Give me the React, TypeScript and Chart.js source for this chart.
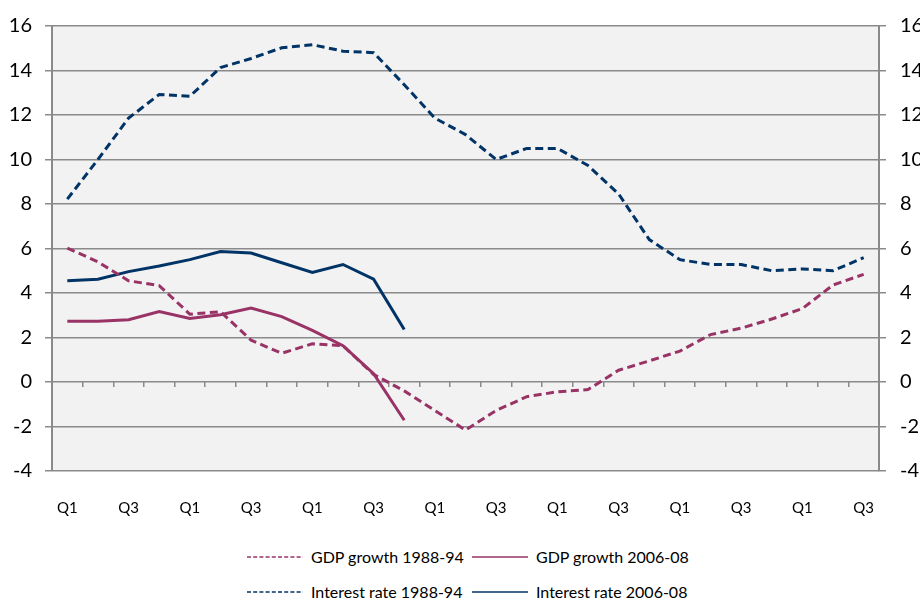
import React, { useEffect, useRef } from 'react';
import { Chart, registerables } from 'chart.js';

Chart.register(...registerables);

const categories = [
  'Q1', 'Q2', 'Q3', 'Q4', 'Q1', 'Q2', 'Q3', 'Q4', 'Q1', 'Q2', 'Q3', 'Q4', 'Q1', 'Q2',
  'Q3', 'Q4', 'Q1', 'Q2', 'Q3', 'Q4', 'Q1', 'Q2', 'Q3', 'Q4', 'Q1', 'Q2', 'Q3',
];

const gdp198894 = [
  6.02, 5.4, 4.55, 4.33, 3.05, 3.16, 1.88, 1.29, 1.72, 1.63, 0.34, -0.4, -1.28, -2.16,
  -1.28, -0.66, -0.44, -0.34, 0.53, 0.95, 1.39, 2.13, 2.42, 2.83, 3.3, 4.36, 4.84,
];
const gdp200608 = [2.73, 2.73, 2.8, 3.17, 2.86, 3.02, 3.32, 2.94, 2.32, 1.63, 0.37, -1.72];
const rate198894 = [
  8.22, 10.0, 11.86, 12.92, 12.84, 14.13, 14.54, 15.02, 15.16, 14.87, 14.8, 13.36, 11.86, 11.12,
  10.0, 10.5, 10.5, 9.73, 8.45, 6.4, 5.5, 5.28, 5.28, 5.0, 5.08, 5.0, 5.59,
];
const rate200608 = [4.55, 4.62, 4.96, 5.21, 5.5, 5.86, 5.8, 5.36, 4.92, 5.28, 4.62, 2.36];

const seriesNames = ['GDP growth 1988-94', 'GDP growth 2006-08', 'Interest rate 1988-94', 'Interest rate 2006-08'];

const MAGENTA = '#993366';
const NAVY = '#003366';
const GRID = '#8a8a8a';
const FONT = 'Lato, "Open Sans", sans-serif';

const plotBg = {
  id: 'plotBg',
  beforeDraw(chart: any) {
    const { ctx, chartArea: a } = chart;
    ctx.save();
    ctx.fillStyle = '#f2f2f2';
    ctx.fillRect(a.left, a.top, a.right - a.left, a.bottom - a.top);
    ctx.restore();
  },
};

const legendItems = [
  { name: seriesNames[0], color: MAGENTA, dashed: true },
  { name: seriesNames[1], color: MAGENTA, dashed: false },
  { name: seriesNames[2], color: NAVY, dashed: true },
  { name: seriesNames[3], color: NAVY, dashed: false },
];

function LegendItem({ item, left, top }: { item: any; left: number; top: number }) {
  return (
    <div style={{ position: 'absolute', left, top, display: 'flex', alignItems: 'center', height: 22, whiteSpace: 'nowrap' }}>
      <svg width={56} height={4} style={{ display: 'block', marginRight: 8 }}>
        <line x1={0} y1={2} x2={56} y2={2} stroke={item.color} strokeWidth={1.5}
          strokeDasharray={item.dashed ? '4 2.2' : undefined} />
      </svg>
      <span style={{ fontFamily: FONT, fontSize: 16, color: '#000', lineHeight: '22px' }}>{item.name}</span>
    </div>
  );
}

export default function App() {
  const ref = useRef<HTMLCanvasElement>(null);

  useEffect(() => {
    if (!ref.current) return;
    Chart.defaults.font.family = FONT;
    Chart.defaults.color = '#000';
    const chart = new Chart(ref.current, {
      type: 'line',
      data: {
        labels: categories,
        datasets: [
          {
            label: seriesNames[0], data: gdp198894, borderColor: MAGENTA, borderWidth: 3,
            borderDash: [8, 4.5], pointRadius: 0, tension: 0, fill: false, xAxisID: 'x', yAxisID: 'y',
          },
          {
            label: seriesNames[1], data: gdp200608, borderColor: MAGENTA, borderWidth: 3,
            pointRadius: 0, tension: 0, fill: false, xAxisID: 'x', yAxisID: 'y',
          },
          {
            label: seriesNames[2], data: rate198894, borderColor: NAVY, borderWidth: 3,
            borderDash: [8, 4.5], pointRadius: 0, tension: 0, fill: false, xAxisID: 'x', yAxisID: 'y',
          },
          {
            label: seriesNames[3], data: rate200608, borderColor: NAVY, borderWidth: 3,
            pointRadius: 0, tension: 0, fill: false, xAxisID: 'x', yAxisID: 'y',
          },
        ],
      },
      options: {
        responsive: false,
        animation: false,
        layout: { padding: { top: 6, bottom: 0, left: 0, right: 0 } },
        plugins: { legend: { display: false }, tooltip: { enabled: false } },
        scales: {
          x: {
            type: 'category',
            offset: true,
            grid: { display: false },
            border: { display: false },
            ticks: {
              autoSkip: false,
              maxRotation: 0,
              padding: 20,
              font: { family: FONT, size: 15 },
              color: '#000',
              callback: (_v: any, i: number) => (i % 2 === 0 ? categories[i] : ''),
            },
            afterFit: (s: any) => { s.height = 60; },
          },
          xTicks: {
            type: 'category',
            axis: 'x',
            position: { y: 0 },
            offset: true,
            ticks: { display: false },
            grid: { drawOnChartArea: false, drawTicks: true, tickLength: 5, offset: true, color: GRID, lineWidth: 1.5 },
            border: { display: false },
          },
          y: {
            min: -4,
            max: 16,
            position: 'left',
            ticks: { stepSize: 2, font: { family: FONT, size: 20 }, color: '#000', padding: 13 },
            border: { display: true, color: GRID, width: 2 },
            grid: { color: GRID, lineWidth: 1.5, tickLength: 7 },
            afterFit: (s: any) => { s.width = 52; },
          },
          y2: {
            min: -4,
            max: 16,
            position: 'right',
            ticks: { stepSize: 2, font: { family: FONT, size: 20 }, color: '#000', padding: 14 },
            border: { display: true, color: GRID, width: 2 },
            grid: { drawOnChartArea: false, color: GRID, lineWidth: 1.5, tickLength: 7 },
            afterFit: (s: any) => { s.width = 41; },
          },
        },
      } as any,
      plugins: [plotBg],
    });
    return () => chart.destroy();
  }, []);

  return (
    <div style={{ position: 'fixed', left: 0, top: 0, width: 920, height: 601, background: '#fff', overflow: 'hidden' }}>
      <canvas ref={ref} width={920} height={531} style={{ display: 'block' }} />
      <LegendItem item={legendItems[0]} left={247} top={546} />
      <LegendItem item={legendItems[1]} left={472} top={546} />
      <LegendItem item={legendItems[2]} left={247} top={581} />
      <LegendItem item={legendItems[3]} left={472} top={581} />
    </div>
  );
}
